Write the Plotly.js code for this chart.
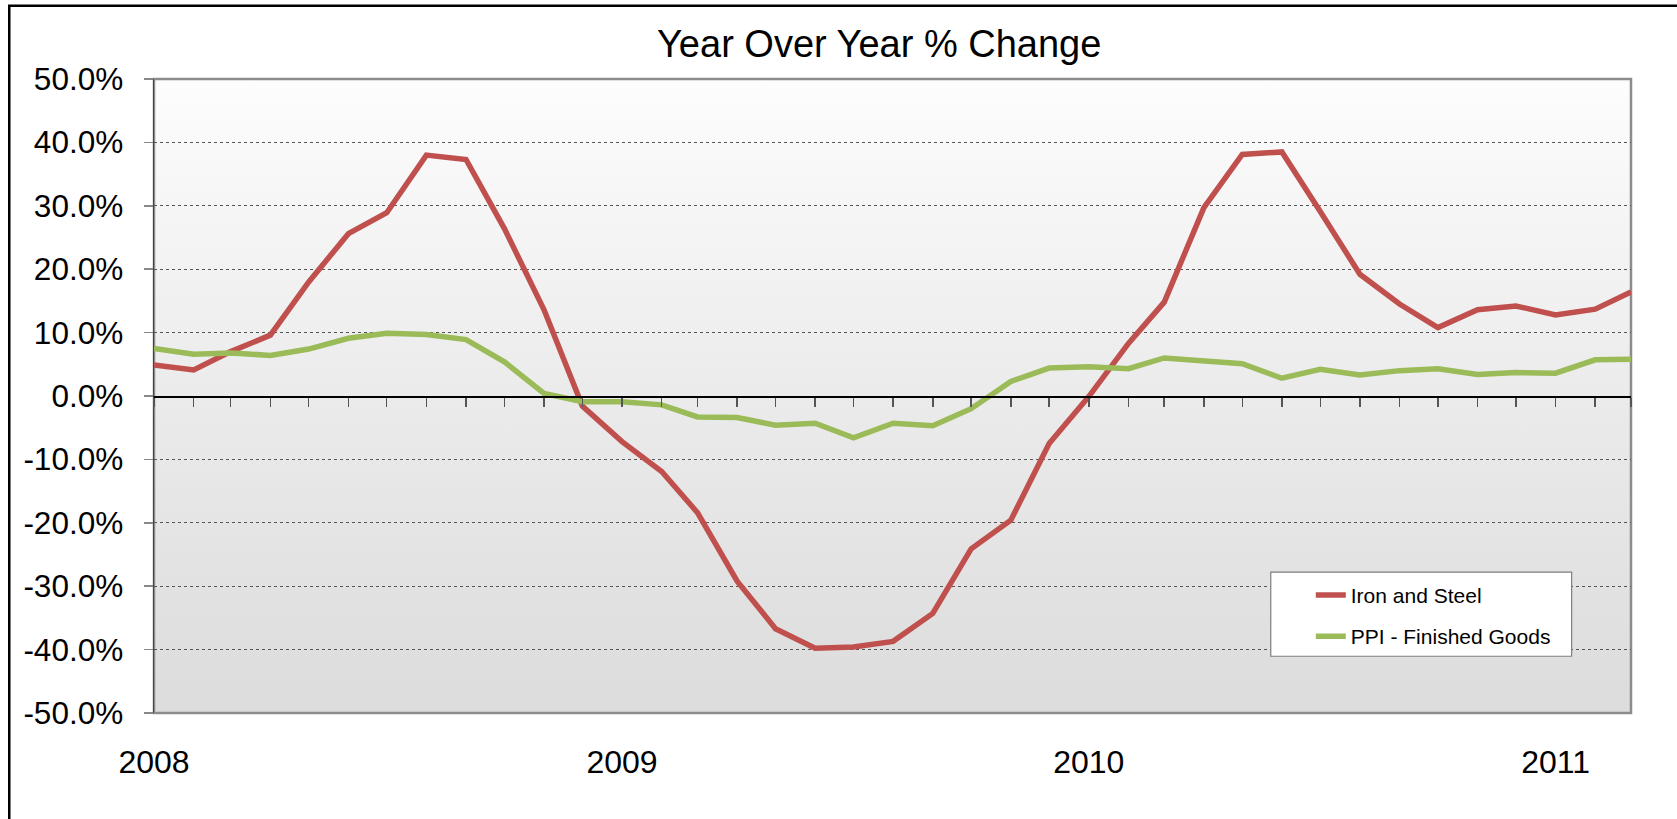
<!DOCTYPE html>
<html>
<head>
<meta charset="utf-8">
<script src="https://cdn.plot.ly/plotly-3.0.1.min.js"></script>
<style>html,body{margin:0;padding:0;background:#fff;}#chart{width:1677px;height:819px;}</style>
</head>
<body>
<div id="chart"></div>
<script>
const months = ['2008-01-01','2008-02-01','2008-03-01','2008-04-01','2008-05-01','2008-06-01','2008-07-01','2008-08-01','2008-09-01','2008-10-01','2008-11-01','2008-12-01',
'2009-01-01','2009-02-01','2009-03-01','2009-04-01','2009-05-01','2009-06-01','2009-07-01','2009-08-01','2009-09-01','2009-10-01','2009-11-01','2009-12-01',
'2010-01-01','2010-02-01','2010-03-01','2010-04-01','2010-05-01','2010-06-01','2010-07-01','2010-08-01','2010-09-01','2010-10-01','2010-11-01','2010-12-01',
'2011-01-01','2011-02-01','2011-03-01'];
const ironSteel = [4.9,4.1,7.0,9.6,18.0,25.6,28.9,38.0,37.3,26.4,13.6,-1.6,
-7.2,-11.9,-18.4,-29.2,-36.7,-39.8,-39.6,-38.7,-34.3,-24.1,-19.6,-7.5,
-0.1,8.3,14.8,29.7,38.1,38.5,29.1,19.2,14.5,10.8,13.6,14.2,
12.8,13.7,16.4];
const ppiFinished = [7.5,6.6,6.8,6.4,7.4,9.1,9.9,9.7,8.9,5.4,0.4,-0.9,
-0.9,-1.4,-3.3,-3.4,-4.6,-4.3,-6.6,-4.3,-4.7,-2.0,2.3,4.4,
4.6,4.3,6.0,5.5,5.1,2.8,4.2,3.3,4.0,4.3,3.4,3.7,
3.6,5.7,5.8];
const seriesNames = ['Iron and Steel','PPI - Finished Goods'];
const yearTicks = ['2008-01-01','2009-01-01','2010-01-01','2011-01-01'];
const yearLabels = ['2008','2009','2010','2011'];
const yTickVals = [-50,-40,-30,-20,-10,0,10,20,30,40,50];
const yTickText = ['-50.0%','-40.0%','-30.0%','-20.0%','-10.0%','0.0%','10.0%','20.0%','30.0%','40.0%','50.0%'];

const FONT = 'Liberation Sans, Arial, sans-serif';
const grad = 'data:image/svg+xml;charset=utf-8,' + encodeURIComponent(
 '<svg xmlns="http://www.w3.org/2000/svg" width="10" height="100" viewBox="0 0 10 100" preserveAspectRatio="none">' +
 '<defs><linearGradient id="g" x1="0" y1="0" x2="0" y2="1">' +
 '<stop offset="0" stop-color="#fdfdfd"/><stop offset="0.5" stop-color="#ebebeb"/><stop offset="1" stop-color="#dcdcdc"/>' +
 '</linearGradient></defs><rect x="0" y="0" width="10" height="100" fill="url(#g)"/></svg>');

const traces = [
 {x: months, y: ironSteel, name: seriesNames[0], type: 'scatter', mode: 'lines',
  line: {color: '#C0504D', width: 5.5}, legendgroup: 'a', xaxis: 'x', yaxis: 'y', hoverinfo: 'skip'},
 {x: months, y: ppiFinished, name: seriesNames[1], type: 'scatter', mode: 'lines',
  line: {color: '#9BBB59', width: 5.5}, legendgroup: 'b', xaxis: 'x2', yaxis: 'y', hoverinfo: 'skip'}
];

const layout = {
 width: 1677, height: 819,
 margin: {l: 154, r: 46, t: 79, b: 106, pad: 0},
 paper_bgcolor: '#ffffff',
 plot_bgcolor: 'rgba(0,0,0,0)',
 font: {family: FONT, color: '#000000'},
 showlegend: true,
 title: {text: 'Year Over Year % Change', font: {family: FONT, size: 38, color: '#000'},
   x: 0.491, xref: 'paper', xanchor: 'center', y: 0.947, yref: 'container', yanchor: 'middle'},
 xaxis: {type: 'date', range: [months[0], months[months.length-1]],
   tickmode: 'array', tickvals: yearTicks, ticktext: yearLabels,
   ticks: 'outside', ticklen: 21, tickcolor: 'rgba(0,0,0,0)',
   tickfont: {family: FONT, size: 32, color: '#000'},
   showgrid: false, zeroline: false, showline: false, fixedrange: true},
 xaxis2: {type: 'date', range: [months[0], months[months.length-1]], overlaying: 'x',
   anchor: 'free', position: 0.5, side: 'bottom',
   tickmode: 'linear', tick0: months[0], dtick: 'M1',
   ticks: 'outside', ticklen: 9, tickwidth: 1.5, tickcolor: '#555',
   showticklabels: false, showgrid: false, zeroline: false,
   showline: true, linecolor: '#000', linewidth: 1.5, fixedrange: true},
 yaxis: {range: [-50, 50], tickmode: 'array', tickvals: yTickVals, ticktext: yTickText,
   ticks: 'outside', ticklen: 9, tickwidth: 1.5, tickcolor: '#888',
   ticklabelstandoff: 14,
   tickfont: {family: FONT, size: 31.5, color: '#000'},
   showgrid: true, gridcolor: '#555', gridwidth: 1, griddash: 'dot',
   zeroline: false, showline: true, linecolor: '#444', linewidth: 1.5, fixedrange: true},
 legend: {x: 0.7832, y: 0.218, xanchor: 'left', yanchor: 'top',
   bgcolor: 'rgba(0,0,0,0)', bordercolor: 'rgba(0,0,0,0)', borderwidth: 0,
   font: {family: FONT, size: 21, color: '#000'},
   traceorder: 'grouped', tracegroupgap: 11},
 images: [{source: grad, xref: 'paper', yref: 'paper', x: 0, y: 1, sizex: 1, sizey: 1,
   sizing: 'stretch', xanchor: 'left', yanchor: 'top', layer: 'below'}],
 shapes: [
   {type: 'rect', xref: 'paper', yref: 'paper', x0: 0, x1: 1, y0: 0, y1: 1,
    line: {color: '#8c8c8c', width: 2.5}, fillcolor: 'rgba(0,0,0,0)', layer: 'between'},
   {type: 'rect', xref: 'paper', yref: 'paper', x0: 0.7561, x1: 0.9598, y0: 0.0895, y1: 0.2221,
    line: {color: '#7f7f7f', width: 1.2}, fillcolor: '#ffffff', layer: 'above'},
   {type: 'rect', xref: 'paper', yref: 'paper', x0: -0.098, x1: 1.2, y0: -0.3, y1: 1.1157,
    line: {color: '#000', width: 2.5}, fillcolor: 'rgba(0,0,0,0)', layer: 'above'}
 ]
};

Plotly.newPlot('chart', traces, layout, {displayModeBar: false, staticPlot: true});
</script>
</body>
</html>
